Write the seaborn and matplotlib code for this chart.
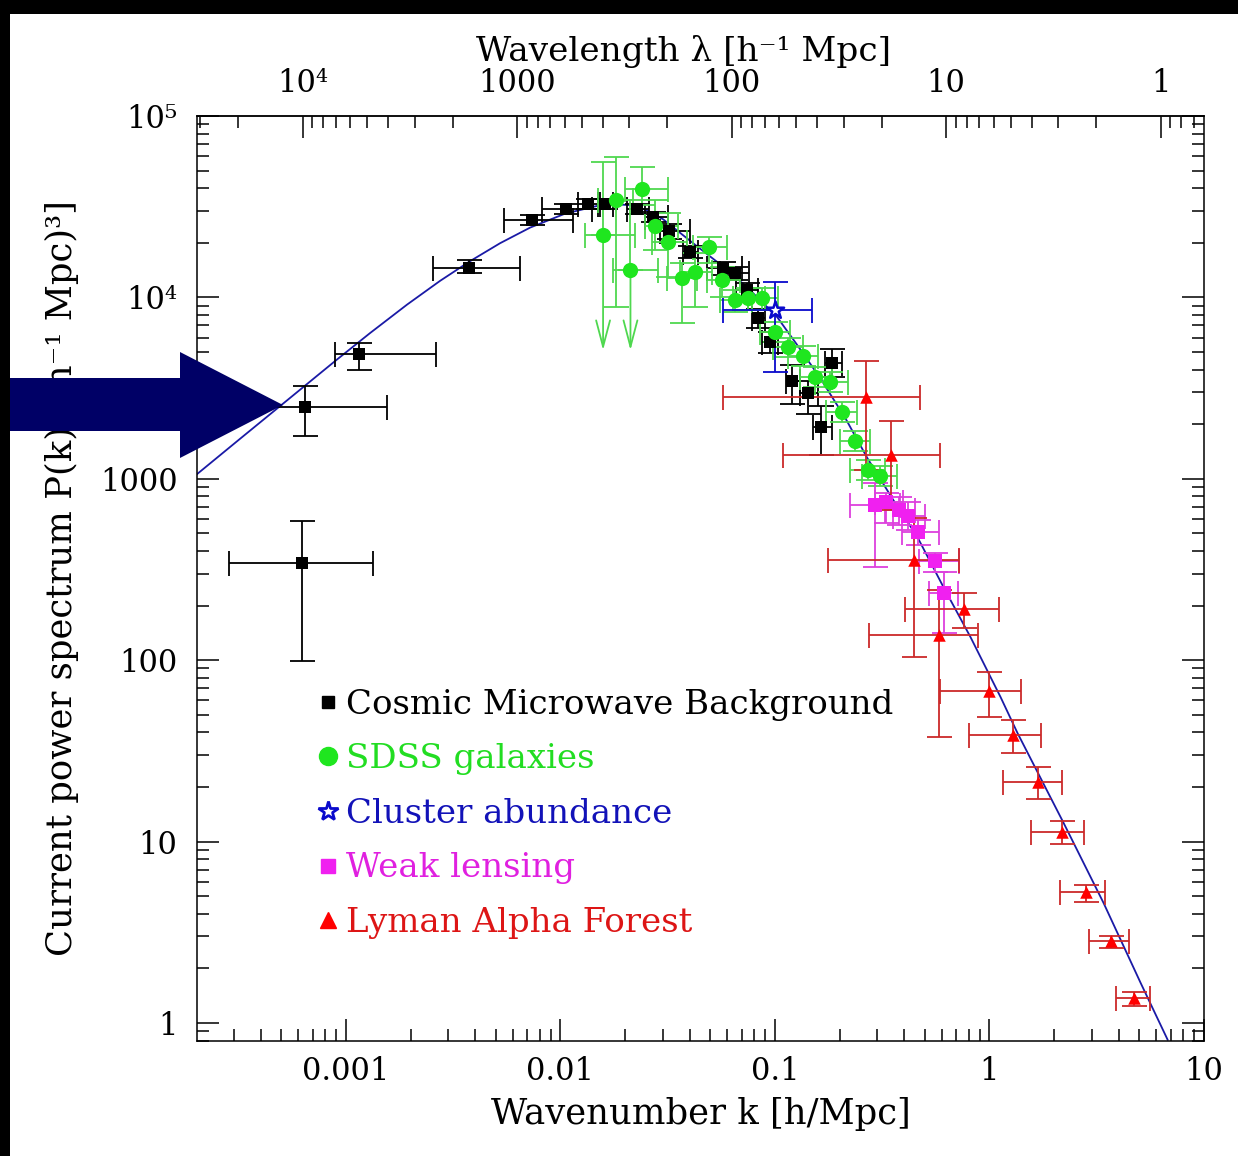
import numpy as np
import matplotlib
matplotlib.use("Agg")
import matplotlib.pyplot as plt
import seaborn as sns
from matplotlib.lines import Line2D
from matplotlib.patches import Polygon, Rectangle
from matplotlib.ticker import LogLocator, NullFormatter

# ---------------- data ----------------
# linear-theory model curve
curve_k = [2.018e-4, 3.20e-4, 5.08e-4, 8.89e-4, 1.294e-3, 1.926e-3, 2.746e-3, 3.75e-3,
           5.232e-3, 7.22e-3, 1.052e-2, 1.531e-2, 1.799e-2, 2.115e-2, 2.538e-2, 3.013e-2,
           4.163e-2, 5.562e-2, 7.432e-2, 0.1026, 0.1273, 0.1628, 0.2131, 0.2699, 0.3568,
           0.4619, 0.6107, 0.8163, 1.127, 1.352, 2.218, 3.405, 5.07, 6.78]
curve_P = [1059, 1657, 2590, 4452, 6350, 9118, 12330, 15710,
           19890, 24240, 28950, 32210, 32620, 32210, 30150, 26910,
           19840, 15200, 11350, 7760, 5439, 3578, 2154, 1297, 761,
           476, 252.5, 133.9, 62.55, 39.61, 12.65, 4.584, 1.661, 0.806]

# Cosmic Microwave Background
cmb_k = [6.23e-4, 6.44e-4, 1.15e-3, 3.75e-3, 7.38e-3, 1.063e-2, 1.347e-2, 1.617e-2,
         0.0228, 0.0271, 0.0322, 0.0403, 0.0574, 0.0654, 0.0743, 0.0837, 0.0951,
         0.1206, 0.1432, 0.1853, 0.1647]
cmb_klo = [2.84e-4, 2.9e-4, 8.89e-4, 2.55e-3, 5.46e-3, 8.21e-3, 1.21e-2, 1.50e-2,
           0.0205, 0.0248, 0.0292, 0.0374, 0.0480, 0.0556, 0.0660, 0.0780, 0.0872,
           0.1130, 0.1314, 0.1717, 0.1504]
cmb_khi = [1.337e-3, 1.55e-3, 2.63e-3, 6.49e-3, 1.146e-2, 1.406e-2, 1.53e-2, 1.75e-2,
           0.0260, 0.0318, 0.0403, 0.0438, 0.0700, 0.0754, 0.0830, 0.0900, 0.1037,
           0.1314, 0.1594, 0.2063, 0.1853]
cmb_P = [342, 2477, 4853, 14450, 26570, 30530, 32540, 32540,
         30530, 27600, 23100, 17700, 14450, 13560, 10930, 7660, 5650,
         3445, 2958, 4328, 1922]
cmb_Plo = [98.7, 1715, 3962, 13560, 24940, 28650, 30530, 30530,
           28650, 25900, 20930, 16400, 13270, 12500, 9900, 6800, 4930,
           2595, 2270, 3640, 1346]
cmb_Phi = [583, 3235, 5580, 15990, 28300, 32540, 34700, 34700,
           32540, 29400, 25500, 19100, 15740, 14700, 12000, 8630, 6440,
           4250, 3470, 5170, 2517]

# SDSS galaxies (flag 1 = upper limit drawn with a downward arrow)
sdss_k = [0.0158, 0.0182, 0.0212, 0.0241, 0.0277, 0.0318, 0.0370, 0.0425, 0.0494,
          0.0568, 0.0654, 0.0751, 0.0874, 0.1004, 0.1155, 0.1357, 0.1544, 0.1814,
          0.2063, 0.2373, 0.2729, 0.3104]
sdss_klo = [0.0130, 0.0150, 0.0176, 0.0200, 0.0247, 0.0268, 0.0315, 0.0362, 0.0416,
            0.0484, 0.0556, 0.0640, 0.0751, 0.0855, 0.0983, 0.1155, 0.1314, 0.1544,
            0.1737, 0.2020, 0.2249, 0.2558]
sdss_khi = [0.0223, 0.0218, 0.0286, 0.0318, 0.0354, 0.0390, 0.0435, 0.0511, 0.0600,
            0.0690, 0.0785, 0.0902, 0.1037, 0.1180, 0.1357, 0.1594, 0.1853, 0.2201,
            0.2424, 0.2788, 0.3275, 0.3726]
sdss_P = [21960, 34220, 14090, 39360, 24620, 20090, 12720, 13730, 18860,
          12410, 9627, 9874, 9874, 6416, 5302, 4731, 3624, 3402,
          2325, 1609, 1114, 1032]
sdss_Plo = [5105, 8810, 5105, 32130, 18160, 12890, 7192, 8810, 15390,
            10000, 8270, 8480, 8480, 5650, 4671, 4167, 3192, 2997,
            2048, 1418, 981, 909]
sdss_Phi = [55430, 59070, 34220, 52040, 34220, 29030, 15390, 17480, 21410,
            14630, 10930, 11210, 11210, 7285, 5944, 5370, 4115, 3862,
            2639, 1827, 1265, 1172]
sdss_limit = [1, 0, 1, 0, 0, 0, 0, 0, 0, 0, 0, 0, 0, 0, 0, 0, 0, 0, 0, 0, 0, 0]

# Cluster abundance
clus_k = [0.1004]
clus_klo = [0.0574]
clus_khi = [0.1495]
clus_P = [8476]
clus_Plo = [3860]
clus_Phi = [12100]

# Weak lensing
wl_k = [0.294, 0.331, 0.3806, 0.415, 0.4619, 0.5544, 0.611]
wl_klo = [0.2249, 0.2941, 0.3275, 0.3568, 0.3931, 0.4669, 0.5198]
wl_khi = [0.3847, 0.3972, 0.4519, 0.5032, 0.5788, 0.7176, 0.7098]
wl_P = [714, 742, 670, 621, 507, 351, 234]
wl_Plo = [325, 569, 554, 520, 430, 305, 141]
wl_Phi = [944, 832, 791, 742, 590, 389, 305]

# Lyman Alpha Forest
lya_k = [0.267, 0.349, 0.447, 0.579, 0.757, 0.991, 1.282, 1.677, 2.17, 2.808, 3.673, 4.704]
lya_klo = [0.0574, 0.1095, 0.1776, 0.2758, 0.406, 0.585, 0.807, 1.151, 1.555, 2.124, 2.90, 3.875]
lya_khi = [0.472, 0.585, 0.718, 0.889, 1.103, 1.396, 1.732, 2.17, 2.75, 3.444, 4.457, 5.585]
lya_P = [2812, 1347, 356, 137.3, 191, 67.5, 38.6, 21.27, 11.28, 5.27, 2.83, 1.373]
lya_Plo = [1114, 670, 103.9, 37.7, 150, 48.5, 30.7, 17.15, 9.69, 4.64, 2.59, 1.24]
lya_Phi = [4440, 2074, 606, 243, 234, 85.9, 46.7, 25.7, 12.97, 5.76, 3.01, 1.482]

legend_labels = ["Cosmic Microwave Background", "SDSS galaxies", "Cluster abundance",
                 "Weak lensing", "Lyman Alpha Forest"]
x_tick_vals = [1e-3, 1e-2, 1e-1, 1, 10]
x_tick_text = ["0.001", "0.01", "0.1", "1", "10"]
y_tick_vals = [1, 10, 100, 1000, 1e4, 1e5]
y_tick_text = ["1", "10", "100", "1000", "10\u2074", "10\u2075"]
lam_tick_vals = [1e4, 1e3, 1e2, 10, 1]
lam_tick_text = ["10\u2074", "1000", "100", "10", "1"]

# ---------------- style ----------------
sns.set_theme(style="ticks")
plt.rcParams["font.family"] = ["DejaVu Serif", "DejaVu Sans"]
plt.rcParams.update({"axes.linewidth": 1.1, "text.color": "black",
                     "axes.labelcolor": "black", "xtick.color": "black",
                     "ytick.color": "black"})

CURVE_C = "#1a1aa6"
GREEN_M, GREEN_E = "#1fe61f", "#4fd84f"
BLUE_C = "#0a0acc"
MAG_M, MAG_E = "#f020f0", "#dd40dd"
RED_M, RED_E = "#ff0000", "#cc2a2a"

fig = plt.figure(figsize=(12.38, 11.56), dpi=100)
fig.patch.set_facecolor("white")
ax = fig.add_axes([0.1591, 0.0995, 0.8134, 0.8002])
ax.set_xscale("log")
ax.set_yscale("log")
ax.set_xlim(2.02e-4, 10)
ax.set_ylim(0.796, 1e5)

# model curve
sns.lineplot(x=curve_k, y=curve_P, ax=ax, color=CURVE_C, lw=1.3, sort=False,
             estimator=None, zorder=1)


def draw_set(k, klo, khi, P, Plo, Phi, marker, mcolor, ecolor, msize,
             cap=9, limits=None, **mkw):
    k, klo, khi = map(np.asarray, (k, klo, khi))
    P, Plo, Phi = map(np.asarray, (P, Plo, Phi))
    lim = np.zeros(len(k), bool) if limits is None else np.asarray(limits, bool)
    low = np.where(lim, 0.0, P - Plo)
    ax.errorbar(k, P, xerr=[k - klo, khi - k], yerr=[low, Phi - P], fmt="none",
                ecolor=ecolor, elinewidth=1.3, capsize=cap, capthick=1.3, zorder=2)
    for kk, pp, pl in zip(k[lim], P[lim], Plo[lim]):
        ax.annotate("", xy=(kk, pl), xytext=(kk, pp),
                    arrowprops=dict(arrowstyle="->,head_length=0.95,head_width=0.25",
                                    color=ecolor, lw=1.3, shrinkA=0, shrinkB=0,
                                    mutation_scale=20), zorder=2)
    sns.scatterplot(x=k, y=P, marker=marker, color=mcolor, s=msize ** 2, ax=ax,
                    zorder=3, legend=False, **mkw)


draw_set(cmb_k, cmb_klo, cmb_khi, cmb_P, cmb_Plo, cmb_Phi, "s", "black", "black", 8,
         linewidth=0)
draw_set(sdss_k, sdss_klo, sdss_khi, sdss_P, sdss_Plo, sdss_Phi, "o", GREEN_M, GREEN_E,
         11, limits=sdss_limit, linewidth=0)
draw_set(clus_k, clus_klo, clus_khi, clus_P, clus_Plo, clus_Phi, "*", "white", BLUE_C,
         13, edgecolor=BLUE_C, linewidth=1.8)
draw_set(wl_k, wl_klo, wl_khi, wl_P, wl_Plo, wl_Phi, "s", MAG_M, MAG_E, 9.5,
         linewidth=0)
draw_set(lya_k, lya_klo, lya_khi, lya_P, lya_Plo, lya_Phi, "^", RED_M, RED_E, 9,
         linewidth=0)

# ---------------- axes ----------------
tick_kw = dict(direction="in", width=1.1, colors="black")
ax.tick_params(which="major", length=16, labelsize=22, **tick_kw)
ax.tick_params(which="minor", length=8.5, **tick_kw)
ax.tick_params(axis="both", which="both", right=True, top=False)
ax.tick_params(axis="y", which="major", pad=14)
ax.tick_params(axis="x", which="major", pad=11)

ax.set_xticks(x_tick_vals, labels=x_tick_text)
ax.set_yticks(y_tick_vals, labels=y_tick_text)
ax.xaxis.set_minor_locator(LogLocator(base=10, subs=np.arange(2, 10), numticks=100))
ax.yaxis.set_minor_locator(LogLocator(base=10, subs=np.arange(2, 10), numticks=100))
ax.xaxis.set_minor_formatter(NullFormatter())
ax.yaxis.set_minor_formatter(NullFormatter())
ax.set_xlim(2.02e-4, 10)
ax.set_ylim(0.796, 1e5)
for s in ax.spines.values():
    s.set_color("black")
    s.set_linewidth(1.1)

ax.set_xlabel("Wavenumber k [h/Mpc]", fontsize=25.5, labelpad=7, color="black")
ax.set_ylabel("Current power spectrum P(k) [(h\u207b\u00b9 Mpc)\u00b3]", fontsize=25.5,
              labelpad=15, color="black")


def k_to_lam(k):
    k = np.asarray(k, dtype=float)
    with np.errstate(divide="ignore"):
        return 2 * np.pi / k


sec = ax.secondary_xaxis("top", functions=(k_to_lam, k_to_lam))
sec.set_xticks(lam_tick_vals, labels=lam_tick_text)
sec.xaxis.set_minor_locator(LogLocator(base=10, subs=np.arange(2, 10), numticks=100))
sec.xaxis.set_minor_formatter(NullFormatter())
sec.tick_params(which="major", length=16, labelsize=22, pad=12, **tick_kw)
sec.tick_params(which="minor", length=8.5, **tick_kw)
sec.spines["top"].set_linewidth(1.1)
sec.set_xlabel("Wavelength \u03bb [h\u207b\u00b9 Mpc]", fontsize=24.7, labelpad=5,
               color="black")
sec.xaxis.label.set_x(0.483)

# ---------------- legend ----------------
handles = [
    Line2D([], [], ls="none", marker="s", color="black", ms=9),
    Line2D([], [], ls="none", marker="o", color=GREEN_M, ms=13),
    Line2D([], [], ls="none", marker="*", mfc="white", mec=BLUE_C, mew=2, ms=15),
    Line2D([], [], ls="none", marker="s", color=MAG_M, ms=10),
    Line2D([], [], ls="none", marker="^", color=RED_M, ms=11),
]
ax.legend(handles, legend_labels, loc="upper left", bbox_to_anchor=(0.121, 0.381),
          frameon=False, fontsize=24.5, handlelength=0.56, handletextpad=0.25,
          labelspacing=0.665, borderpad=0, borderaxespad=0,
          labelcolor=["black", "#22dd22", "#1212b8", "#e020e0", "#dd1515"])

# ---------------- frame and pointer ----------------
W, H = 1238.0, 1156.0
fig.add_artist(Rectangle((0, 1 - 14 / H), 1, 14 / H, transform=fig.transFigure,
                         facecolor="black", edgecolor="none", zorder=20))
fig.add_artist(Rectangle((0, 0), 10 / W, 1, transform=fig.transFigure,
                         facecolor="black", edgecolor="none", zorder=20))
arrow_px = [(0, 378), (180, 378), (180, 352), (283, 405), (180, 458), (180, 431), (0, 431)]
fig.add_artist(Polygon([(x / W, 1 - y / H) for x, y in arrow_px], closed=True,
                       transform=fig.transFigure, facecolor="#000066",
                       edgecolor="none", zorder=15))

fig.savefig("out.png", dpi=100, facecolor="white")
